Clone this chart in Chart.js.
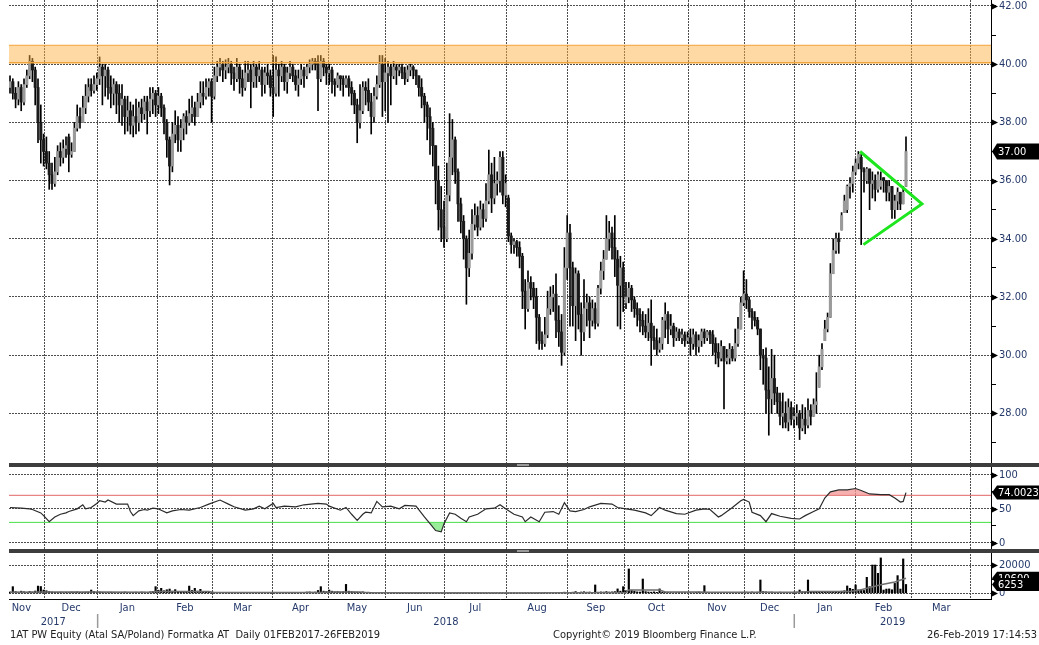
<!DOCTYPE html>
<html>
<head>
<meta charset="utf-8">
<script src="https://cdn.jsdelivr.net/npm/chart.js@4.4.1/dist/chart.umd.min.js"></script>
<style>
  body { margin: 0; background: #fff; width: 1039px; height: 645px; overflow: hidden; position: relative; }
  canvas { position: absolute; left: 0; }
  #priceChart { top: 0; }
  #rsiChart { top: 463px; }
  #volChart { top: 551px; }
  .sep { position: absolute; left: 9px; right: 0; height: 4px; background: #3d3d3d; }
  .sep i { position: absolute; left: 508px; width: 12px; top: 1px; height: 2px; background: #9a9a9a; }
  .foot { position: absolute; top: 628px; font: 11px 'DejaVu Sans Condensed', 'DejaVu Sans', sans-serif; color: #222; white-space: pre; line-height: 14px; }
</style>
</head>
<body>
<canvas id="priceChart" width="1039" height="463"></canvas>
<canvas id="rsiChart" width="1039" height="88"></canvas>
<canvas id="volChart" width="1039" height="94"></canvas>
<div class="sep" style="top:463px"><i></i></div>
<div class="sep" style="top:549px"><i></i></div>
<div class="foot" style="left:10px">1AT PW Equity (Atal SA/Poland) Formatka AT  Daily 01FEB2017-26FEB2019</div>
<div class="foot" style="left:553px">Copyright© 2019 Bloomberg Finance L.P.</div>
<div class="foot" style="right:2px">26-Feb-2019 17:14:53</div>
<script>
// trading-day axis: one unit per session, Nov 2017 .. Feb 2019
const monthNames = ['Nov', 'Dec', 'Jan', 'Feb', 'Mar', 'Apr', 'May', 'Jun', 'Jul', 'Aug', 'Sep', 'Oct', 'Nov', 'Dec', 'Jan', 'Feb', 'Mar'];
const firstMonthStart = -4.3;   // November 2017 begins before the visible window
const monthEdges = [12.4, 31.3, 52.5, 72.4, 93.7, 113.8, 134.0, 155.1, 177.25, 199.2, 219.3, 242.4, 262.5, 280.1, 302.0, 322.0, 343.2];
const yearLabels = ['2017', '2018', '2019'];
const yearStartEdge = [1, 13];

const priceTicks = [27, 28, 29, 30, 31, 32, 33, 34, 35, 36, 37, 38, 39, 40, 41, 42];
const rsiTicks = [0, 25, 50, 75, 100];
const volTicks = [0, 10000, 20000];

const bandLow = 40.05, bandHigh = 40.65;
const triDay = [303.6, 325.7, 304.8];
const triPrice = [37.0, 35.2, 33.8];
const rsiUpper = 70, rsiLower = 30;

const openP = [
  39.2, 39.4, 39.0, 38.8, 39.2, 38.7, 39.3, 39.6, 40.1, 39.8, 39.2, 38.0, 37.4,
  37.0, 36.6, 36.2, 35.9, 36.3, 37.0, 36.8, 37.1, 37.5, 36.9, 37.0, 37.8, 38.2, 38.0, 38.5, 38.9, 39.3, 39.1, 39.3,
  39.5, 39.9, 39.6, 39.8, 39.2, 39.0, 39.3, 39.0, 38.6, 38.8, 38.2, 38.4, 37.9, 38.2, 38.0, 38.5, 38.3, 38.7, 38.4, 38.8, 39.0,
  38.6, 38.9, 38.5, 38.0, 37.4, 36.5, 37.6, 37.9, 37.4, 37.8, 38.2, 38.0, 38.3, 38.5, 38.2, 38.7, 39.0, 38.9, 39.2, 39.4,
  38.9, 39.6, 39.9, 40.0, 39.8, 39.9, 40.0, 39.7, 39.5, 39.9, 39.5, 39.2, 39.7, 39.8, 39.4, 39.9, 39.6, 39.8, 39.3, 39.7, 39.6,
  39.2, 39.0, 39.8, 39.6, 39.9, 39.4, 39.7, 39.9, 39.6, 39.3, 39.5, 39.8, 39.6, 39.9, 40.0, 40.1, 40.0, 39.5, 40.1, 39.9,
  39.7, 39.8, 39.4, 39.3, 39.6, 39.5, 39.3, 39.5, 39.2, 39.0, 38.6, 38.0, 38.4, 39.2, 39.1, 38.7, 38.2, 38.9, 39.3, 40.0,
  39.4, 39.7, 39.9, 39.6, 39.9, 39.8, 39.9, 39.7, 39.5, 39.8, 39.9, 39.8, 39.6, 39.2, 38.9, 38.6, 38.2, 37.8, 37.2, 36.0, 35.0,
  34.4, 34.0, 35.5, 36.8, 37.4, 36.3, 35.2, 34.6, 34.0, 33.0, 33.5, 34.5, 34.8, 34.4, 35.0, 34.7, 35.3, 36.2, 35.4, 35.9, 36.0, 36.8, 35.5,
  35.4, 34.1, 33.8, 33.9, 33.7, 33.4, 32.2, 31.6, 32.5, 32.3, 32.0, 31.3, 30.5, 30.4, 30.7, 31.6, 32.0, 32.1, 31.2, 30.8, 30.1, 33.0,
  34.2, 33.0, 31.7, 32.8, 31.4, 30.8, 31.6, 31.8, 31.2, 31.6, 31.1, 32.3, 32.9, 33.3, 34.0, 34.2, 33.7, 33.3, 32.4, 33.0,
  31.8, 32.0, 32.3, 31.9, 31.6, 31.4, 31.2, 31.0, 30.8, 31.1, 30.6, 30.5, 30.2, 30.4, 31.2, 31.4, 30.9, 31.0, 30.6, 30.8, 30.6, 30.7, 30.5,
  30.6, 30.4, 30.7, 30.3, 30.5, 30.8, 30.6, 30.8, 30.7, 30.4, 30.1, 29.9, 30.3, 29.8, 29.9, 30.2, 29.9, 30.4, 30.9, 31.8,
  32.1, 31.9, 31.5, 31.3, 31.2, 30.9, 30.0, 29.9, 28.8, 28.5, 29.2, 28.7, 28.4, 27.9, 28.0, 27.7, 28.2, 27.8,
  27.9, 28.0, 27.5, 27.8, 27.6, 28.1, 27.9, 28.3, 28.9, 29.6, 30.5, 30.9, 31.3, 32.8, 33.6, 34.0, 34.3, 34.9, 35.0, 35.8, 35.9, 36.3,
  36.6, 36.8, 36.4, 36.0, 36.4, 35.9, 36.0, 35.7, 35.8, 36.1, 36.0, 35.6, 35.8, 35.0, 35.3, 35.6, 35.2, 35.8
];
const highP = [
  39.6, 39.5, 39.2, 39.4, 39.3, 39.5, 39.8, 40.3, 40.2, 39.9, 39.5, 38.6, 37.6,
  37.5, 37.0, 36.6, 36.8, 37.2, 37.3, 37.4, 37.5, 37.6, 37.3, 38.0, 38.6, 38.5, 38.9, 39.3, 39.5, 39.5, 39.6, 39.7,
  40.25, 40.0, 40.0, 39.9, 39.6, 39.5, 39.4, 39.3, 39.3, 38.9, 38.9, 38.7, 38.6, 38.8, 38.7, 38.8, 38.9, 38.9, 39.2, 39.2, 39.1,
  39.2, 39.0, 38.6, 38.1, 37.5, 38.0, 38.4, 38.2, 38.1, 38.3, 38.4, 38.8, 38.9, 38.7, 39.0, 39.4, 39.4, 39.5, 39.5, 39.5,
  39.9, 40.1, 40.2, 40.1, 40.15, 40.2, 40.1, 39.9, 40.2, 40.0, 39.8, 40.1, 40.1, 40.0, 40.1, 40.0, 40.1, 39.9, 39.9, 40.0, 39.8,
  40.3, 40.25, 40.0, 40.1, 40.0, 39.9, 40.1, 40.0, 39.8, 39.8, 40.0, 39.9, 40.0, 40.15, 40.2, 40.2, 40.3, 40.3, 40.2, 40.0,
  40.0, 39.9, 39.5, 39.7, 39.6, 39.6, 39.6, 39.6, 39.4, 39.1, 38.8, 39.3, 39.4, 39.4, 39.5, 39.0, 39.2, 39.6, 40.3, 40.3,
  40.2, 40.1, 40.0, 40.1, 40.0, 40.0, 40.0, 39.9, 39.95, 40.0, 39.95, 39.8, 39.6, 39.5, 39.0, 38.7, 38.5, 38.0, 37.2, 36.5, 35.8,
  35.3, 36.6, 38.3, 38.1, 37.5, 36.4, 35.4, 34.8, 34.1, 34.3, 35.0, 35.2, 35.1, 35.3, 35.2, 35.9, 37.05, 36.6, 36.8, 36.3, 37.0, 37.0, 36.2,
  35.5, 34.2, 34.0, 33.95, 33.9, 33.5, 32.6, 32.9, 32.7, 32.5, 32.3, 31.4, 30.8, 31.3, 32.2, 32.35, 32.4, 32.8, 31.7, 31.4, 33.7, 34.8,
  34.5, 33.2, 33.0, 32.9, 31.8, 32.6, 32.1, 32.0, 31.9, 31.8, 32.4, 33.2, 33.6, 34.8, 34.6, 34.4, 34.8, 33.6, 33.4, 33.2,
  32.5, 32.5, 32.4, 32.0, 31.8, 31.6, 31.5, 31.4, 31.6, 31.9, 31.0, 30.9, 30.6, 31.3, 31.8, 31.5, 31.4, 31.1, 30.95, 30.9, 30.9, 30.8, 30.8,
  30.9, 30.9, 30.8, 30.7, 30.9, 30.9, 30.85, 30.85, 30.85, 30.6, 30.4, 30.5, 30.3, 30.2, 30.4, 30.3, 30.9, 31.3, 32.0, 32.9,
  32.6, 32.0, 31.6, 31.5, 31.3, 30.9, 30.2, 30.25, 29.6, 30.2, 30.0, 28.9, 28.7, 28.7, 28.4, 28.5, 28.4, 28.2,
  28.3, 28.1, 28.3, 28.2, 28.5, 28.3, 28.5, 29.4, 30.0, 30.4, 31.2, 31.45, 33.15, 34.0, 34.2, 34.2, 34.9, 35.5, 35.85, 36.1, 36.5, 36.75,
  37.0, 36.9, 36.45, 36.45, 36.4, 36.3, 36.2, 36.3, 36.3, 36.1, 36.0, 36.0, 35.8, 35.5, 35.75, 35.6, 35.8, 37.5
];
const lowP = [
  39.0, 38.8, 38.5, 38.6, 38.4, 38.6, 39.2, 39.5, 39.4, 38.6, 37.3, 36.6, 36.5,
  36.4, 35.7, 35.7, 35.8, 36.2, 36.5, 36.6, 36.8, 36.3, 36.8, 37.0, 37.7, 37.8, 38.0, 38.3, 38.7, 38.9, 39.0, 39.1,
  39.3, 38.6, 38.9, 38.8, 38.5, 38.6, 38.3, 38.0, 37.9, 37.6, 37.7, 37.6, 37.5, 37.6, 37.7, 38.0, 38.1, 37.6, 38.2, 38.3, 38.2,
  38.3, 38.2, 37.6, 36.8, 35.85, 36.3, 37.3, 37.0, 37.0, 37.4, 37.6, 37.9, 38.0, 37.9, 38.2, 38.5, 38.6, 38.8, 38.9, 38.0,
  38.8, 39.4, 39.6, 39.4, 39.5, 39.7, 39.3, 39.1, 39.4, 39.0, 38.9, 39.1, 39.4, 38.5, 39.2, 39.2, 39.4, 38.9, 39.0, 39.3, 38.9,
  38.2, 38.9, 38.9, 39.4, 39.1, 39.0, 39.5, 39.4, 39.1, 38.9, 39.3, 39.2, 39.5, 39.7, 39.8, 39.8, 38.4, 39.4, 39.6, 39.3,
  39.3, 39.0, 38.9, 39.2, 39.1, 38.9, 39.2, 38.9, 38.6, 38.3, 37.3, 37.8, 38.3, 38.6, 38.4, 37.6, 38.0, 38.8, 39.2, 38.2,
  38.4, 38.0, 38.6, 39.5, 39.3, 39.6, 39.5, 39.3, 39.4, 39.6, 39.5, 39.3, 38.9, 38.5, 38.0, 37.4, 36.9, 36.5, 35.2, 34.3, 33.9,
  33.7, 33.9, 35.3, 36.2, 35.9, 34.6, 34.2, 33.3, 31.75, 32.7, 33.3, 34.3, 34.1, 34.3, 34.4, 34.6, 35.2, 34.9, 35.2, 35.5, 35.6, 35.2, 35.1,
  33.9, 33.5, 33.5, 33.4, 33.0, 31.6, 30.9, 31.5, 31.9, 31.6, 30.4, 30.2, 30.2, 30.3, 30.6, 31.4, 31.5, 30.6, 30.3, 29.65, 30.0, 32.6,
  31.0, 31.0, 30.5, 30.9, 30.0, 30.5, 31.0, 30.6, 31.0, 30.9, 31.0, 32.1, 32.6, 33.3, 33.6, 33.3, 32.7, 31.0, 30.9, 31.5,
  31.6, 31.8, 31.5, 31.3, 31.0, 30.8, 30.7, 30.6, 30.5, 29.65, 30.2, 30.0, 30.1, 30.2, 30.6, 30.4, 30.7, 30.3, 30.5, 30.5, 30.4, 30.3, 30.4,
  30.0, 30.2, 30.0, 30.1, 30.3, 30.4, 30.5, 30.4, 30.0, 29.7, 29.6, 29.8, 28.15, 29.7, 29.7, 29.8, 29.8, 30.3, 30.9, 31.7,
  31.6, 31.3, 30.9, 31.0, 30.7, 29.5, 29.0, 28.0, 27.25, 28.0, 28.3, 28.0, 27.6, 27.5, 27.5, 27.4, 27.6, 27.5,
  27.6, 27.1, 27.4, 27.3, 27.5, 27.6, 27.9, 28.0, 28.9, 29.5, 30.5, 30.8, 31.3, 32.8, 33.5, 33.5, 34.3, 34.9, 34.9, 35.4, 35.6, 36.2,
  36.4, 33.8, 35.6, 35.9, 35.0, 35.4, 35.3, 35.6, 35.7, 35.6, 35.3, 35.3, 34.7, 34.7, 35.0, 35.0, 35.2, 35.8
];
const closeP = [
  39.4, 39.0, 38.8, 39.2, 38.7, 39.3, 39.6, 40.1, 39.8, 39.2, 38.0, 37.4, 37.0,
  36.6, 36.2, 35.9, 36.3, 37.0, 36.8, 37.1, 37.2, 36.9, 37.0, 37.8, 38.2, 38.0, 38.5, 38.9, 39.2, 39.1, 39.3, 39.5,
  39.9, 39.6, 39.8, 39.2, 39.0, 39.3, 39.0, 38.6, 38.8, 38.2, 38.4, 37.9, 38.2, 38.0, 38.5, 38.3, 38.7, 38.4, 38.8, 39.0, 38.6,
  38.9, 38.5, 38.0, 37.4, 36.5, 37.6, 37.9, 37.4, 37.8, 38.2, 38.0, 38.3, 38.5, 38.2, 38.7, 39.0, 38.9, 39.2, 39.4, 38.9,
  39.6, 39.9, 40.0, 39.8, 39.9, 40.0, 39.7, 39.5, 39.9, 39.5, 39.2, 39.7, 39.8, 39.4, 39.9, 39.6, 39.8, 39.3, 39.7, 39.6, 39.2,
  39.0, 39.8, 39.6, 39.9, 39.4, 39.7, 39.9, 39.6, 39.3, 39.5, 39.8, 39.6, 39.9, 40.0, 40.1, 40.0, 39.5, 40.1, 39.9, 39.7,
  39.8, 39.4, 39.3, 39.6, 39.5, 39.3, 39.5, 39.2, 39.0, 38.6, 38.0, 38.4, 39.2, 39.1, 38.7, 38.2, 38.9, 39.3, 40.0, 39.4,
  39.7, 39.9, 39.6, 39.9, 39.8, 39.9, 39.7, 39.5, 39.8, 39.9, 39.8, 39.6, 39.2, 38.9, 38.6, 38.2, 37.8, 37.2, 36.0, 35.0, 34.4,
  34.0, 35.5, 36.8, 37.4, 36.3, 35.2, 34.6, 34.0, 33.0, 33.5, 34.5, 34.8, 34.4, 35.0, 34.7, 35.3, 36.2, 35.4, 35.9, 36.0, 36.8, 35.5, 35.9,
  34.1, 33.8, 33.9, 33.7, 33.4, 32.2, 31.6, 32.5, 32.3, 32.0, 31.3, 30.5, 30.4, 30.7, 31.6, 32.0, 32.1, 31.2, 30.8, 30.1, 33.0, 34.2,
  33.0, 31.7, 32.8, 31.4, 30.8, 31.6, 31.8, 31.2, 31.6, 31.1, 32.3, 32.9, 33.3, 34.0, 34.2, 33.7, 33.3, 32.4, 33.0, 32.0,
  32.0, 32.3, 31.9, 31.6, 31.4, 31.2, 31.0, 30.8, 31.1, 30.6, 30.5, 30.2, 30.4, 31.2, 31.4, 30.9, 31.0, 30.6, 30.8, 30.6, 30.7, 30.5, 30.6,
  30.4, 30.7, 30.3, 30.5, 30.8, 30.6, 30.8, 30.7, 30.4, 30.1, 29.9, 30.3, 29.8, 29.9, 30.2, 29.9, 30.4, 30.9, 31.8, 32.1,
  31.9, 31.5, 31.3, 31.2, 30.9, 30.0, 29.9, 28.8, 28.5, 29.2, 28.7, 28.4, 27.9, 28.0, 27.7, 28.2, 27.8, 27.9,
  28.0, 27.5, 27.8, 27.6, 28.1, 27.9, 28.3, 28.4, 29.6, 30.2, 30.9, 31.3, 32.8, 33.6, 34.0, 33.9, 34.8, 35.3, 35.8, 35.9, 36.3, 36.6,
  36.9, 36.4, 36.3, 36.4, 35.9, 36.0, 35.7, 36.2, 36.0, 36.0, 35.6, 35.8, 35.0, 35.3, 35.6, 35.2, 35.6, 37.0
];
const volume = [
  900, 4700, 1200, 800, 1500, 1100, 700, 1300, 900, 1600, 5100, 4800, 2300,
  1800, 1200, 900, 700, 600, 800, 500, 700, 600, 900, 800, 1000, 700, 600, 800, 900, 2300, 1200, 700,
  900, 700, 500, 600, 800, 700, 500, 600, 700, 900, 600, 500, 700, 800, 600, 900, 800, 700, 1000, 1400, 4700,
  2200, 3500, 1800, 2500, 3000, 1500, 2600, 1200, 900, 1400, 1100, 5100, 2000, 3500, 1500, 2800, 1200, 900, 700, 600,
  500, 400, 600, 400, 500, 300, 400, 600, 500, 400, 300, 500, 400, 600, 400, 500, 300, 400, 500, 400, 300,
  400, 500, 300, 400, 600, 400, 500, 300, 400, 500, 600, 700, 900, 1000, 800, 900, 2000, 4700, 1500, 1200,
  2300, 1500, 1000, 1200, 900, 1100, 6300, 1500, 1200, 900, 800, 700, 1000, 600, 800, 700, 600, 500, 700, 600,
  400, 300, 300, 200, 300, 200, 200, 300, 200, 200, 300, 200, 200, 300, 200, 300, 200, 200, 300, 200, 300,
  200, 300, 200, 300, 200, 200, 300, 200, 300, 200, 200, 300, 200, 200, 300, 200, 300, 200, 200, 300, 200, 300, 200,
  300, 200, 200, 200, 300, 200, 200, 300, 200, 300, 200, 300, 200, 500, 300, 400, 300, 300, 500, 600, 800, 700,
  600, 800, 1200, 700, 900, 1100, 800, 900, 700, 5900, 800, 1000, 900, 1200, 900, 1000, 1200, 3100, 1500, 4700,
  1800, 17200, 2000, 1500, 1000, 900, 10100, 1200, 900, 800, 1000, 700, 3100, 900, 700, 600, 500, 400, 500, 600, 400, 500, 400,
  500, 400, 600, 900, 500, 5400, 600, 500, 400, 500, 600, 500, 700, 400, 500, 600, 500, 400, 600, 700,
  800, 700, 900, 600, 800, 9400, 1200, 1000, 800, 900, 700, 600, 800, 700, 600, 500, 700, 800,
  900, 2300, 1100, 900, 9400, 1200, 1000, 800, 900, 1000, 1200, 900, 1100, 1000, 1300, 1200, 1500, 1800, 5200, 3500, 2800, 5900,
  2300, 2500, 2000, 11300, 4700, 20000, 20000, 14100, 25000, 2300, 3000, 3100, 2500, 7000, 12500, 3000, 24300, 6253
];
const volAvgDay = [0, 12, 32, 50, 52, 71, 73, 111, 113, 125, 129, 182, 220, 221, 232, 234, 246, 250, 282, 286, 300, 304, 311, 316, 320];
const volAvgVal = [700, 900, 900, 700, 1200, 1200, 500, 500, 900, 900, 300, 200, 600, 2300, 2300, 1000, 900, 700, 800, 1200, 1200, 2500, 6000, 8000, 10600];
const rsiDay = [
  0, 4, 7, 8, 11, 12, 14, 16, 18, 20,
  21, 24, 26, 27, 29, 31, 32, 34, 35, 38,
  42, 43, 44, 46, 48, 49, 51, 53, 54, 56,
  58, 61, 64, 68, 71, 75, 78, 80, 84, 87,
  89, 91, 94, 95, 98, 102, 105, 110, 113, 114,
  118, 120, 122, 124, 126, 127, 129, 131, 133, 136,
  139, 141, 145, 148, 150, 152, 154, 155, 157, 159,
  161, 163, 164, 167, 170, 173, 175, 177, 180, 183,
  184, 186, 189, 191, 194, 196, 198, 200, 202, 205,
  207, 211, 215, 217, 220, 223, 227, 229, 232, 234,
  238, 241, 245, 248, 250, 253, 254, 258, 261, 262,
  264, 265, 268, 270, 272, 275, 279, 282, 284, 287,
  289, 291, 293, 296, 299, 302, 304, 307, 311, 314,
  316, 318, 319, 320
];
const rsiVal = [
  52, 51, 50, 49, 44, 40, 31, 38, 42, 44,
  46, 50, 56, 50, 52, 58, 62, 60, 63, 57,
  57, 46, 40, 47, 49, 48, 51, 50, 48, 44,
  47, 49, 48, 52, 57, 63, 57, 53, 48, 50,
  54, 50, 58, 52, 54, 53, 56, 58, 57, 54,
  48, 52, 42, 33, 42, 45, 44, 61, 53, 54,
  50, 55, 54, 38, 28, 18, 16, 28, 44, 42,
  36, 31, 38, 42, 50, 51, 56, 50, 42, 38,
  31, 38, 31, 45, 46, 42, 59, 47, 46, 49,
  53, 58, 57, 52, 50, 48, 44, 40, 52, 48,
  43, 42, 48, 50, 49, 38, 40, 52, 62, 64,
  60, 45, 40, 31, 43, 39, 36, 35, 40, 46,
  50, 66, 75, 78, 78, 80, 77, 72, 71, 71,
  66, 60, 61, 74.0023
];

// ---- look ----
const X_MIN = -0.36, X_MAX = 350.36;
const GRID = '#4d4d4d';
const LABEL = '#24396a';
const FAMILY = "'DejaVu Sans Condensed', 'DejaVu Sans', sans-serif";
const AXIS_FONT = '11px ' + FAMILY;
const days = closeP.map((_, i) => i);

function xAxis(showBorder) {
    return {
        type: 'linear', min: X_MIN, max: X_MAX, offset: false,
        afterBuildTicks: s => { s.ticks = monthEdges.map(v => ({ value: v })); },
        ticks: { display: false },
        grid: { color: GRID, lineWidth: 1, drawTicks: false, offset: false },
        border: { display: showBorder, color: '#000', width: 1, dash: [2, 1] },
        afterFit: s => { s.height = 0; s.paddingLeft = 0; s.paddingRight = 0; }
    };
}

function rightAxis(min, max, tickList, isMajor, fmt) {
    return {
        position: 'right', min: min, max: max,
        afterBuildTicks: s => { s.ticks = tickList.map(v => ({ value: v })); },
        grid: {
            color: c => (c.tick && isMajor(c.tick.value)) ? GRID : 'rgba(0,0,0,0)',
            tickColor: '#000', tickLength: 5, lineWidth: 1
        },
        border: { display: true, color: '#000', width: 1, dash: [2, 1] },
        ticks: {
            color: LABEL, padding: 3, autoSkip: false,
            font: { family: FAMILY, size: 11 },
            callback: v => isMajor(v) ? fmt(v) : ''
        },
        afterFit: s => { s.width = 48; s.paddingTop = 0; s.paddingBottom = 0; }
    };
}

function baseOptions(yCfg, showXBorder, padBottom, extra) {
    return {
        responsive: false, animation: false, events: [],
        layout: { padding: { left: 9, right: 0, top: 0, bottom: padBottom } },
        plugins: Object.assign({ legend: { display: false }, tooltip: { enabled: false } }, extra),
        scales: { x: xAxis(showXBorder), y: yCfg }
    };
}

function drawTag(chart, value, text, h) {
    const ctx = chart.ctx, r = chart.chartArea.right;
    const py = chart.scales.y.getPixelForValue(value);
    ctx.fillStyle = '#000';
    ctx.beginPath();
    ctx.moveTo(r + 1, py);
    ctx.lineTo(r + 6, py - h / 2);
    ctx.lineTo(chart.width, py - h / 2);
    ctx.lineTo(chart.width, py + h / 2);
    ctx.lineTo(r + 6, py + h / 2);
    ctx.closePath();
    ctx.fill();
    ctx.fillStyle = '#fff';
    ctx.font = '11px ' + FAMILY;
    ctx.textBaseline = 'middle';
    ctx.fillText(text, r + 7, py + 0.5);
}

// black tags at the right edge + small arrow heads on major ticks
const markers = {
    id: 'markers',
    afterDraw(chart, args, opts) {
        const ctx = chart.ctx, y = chart.scales.y, r = chart.chartArea.right;
        ctx.save();
        ctx.fillStyle = '#000';
        y.ticks.forEach(t => {
            if (!opts.isMajor(t.value)) return;
            const py = Math.round(y.getPixelForValue(t.value)) + 0.5;
            ctx.beginPath();
            ctx.moveTo(r + 1, py - 3);
            ctx.lineTo(r + 7, py);
            ctx.lineTo(r + 1, py + 3);
            ctx.closePath();
            ctx.fill();
        });
        for (let k = 0; k < opts.tagValues.length; k++) {
            drawTag(chart, opts.tagValues[k], opts.tagTexts[k], opts.tagHeight);
        }
        ctx.restore();
    }
};

// month and year captions under the volume pane
const timeLabels = {
    id: 'timeLabels',
    afterDraw(chart) {
        const ctx = chart.ctx, x = chart.scales.x, base = chart.chartArea.bottom;
        const edges = [firstMonthStart].concat(monthEdges);
        const px = v => x.getPixelForValue(v);
        ctx.save();
        ctx.font = AXIS_FONT;
        ctx.fillStyle = LABEL;
        ctx.textAlign = 'center';
        ctx.textBaseline = 'middle';
        monthNames.forEach((m, k) => {
            ctx.fillText(m, (px(edges[k]) + px(edges[k + 1])) / 2, base + 9);
        });
        const yEdges = [X_MIN, monthEdges[yearStartEdge[0]], monthEdges[yearStartEdge[1]], X_MAX];
        yearLabels.forEach((yl, k) => {
            ctx.fillText(yl, (px(yEdges[k]) + px(yEdges[k + 1])) / 2, base + 23);
        });
        ctx.strokeStyle = '#9a9a9a';
        ctx.lineWidth = 1.5;
        ctx.beginPath();
        yearStartEdge.forEach(k => {
            const sx = px(monthEdges[k]);
            ctx.moveTo(sx, base + 15);
            ctx.lineTo(sx, base + 29);
        });
        ctx.stroke();
        ctx.restore();
    }
};

const isEven = v => v % 2 === 0;
const edgeLine = (val) => [{ x: X_MIN, y: val }, { x: X_MAX, y: val }];
const lastClose = closeP[closeP.length - 1];
const lastRsi = rsiVal[rsiVal.length - 1];
const lastAvg = volAvgVal[volAvgVal.length - 1];
const lastVol = volume[volume.length - 1];

// price pane
new Chart(document.getElementById('priceChart'), {
    type: 'bar',
    data: {
        datasets: [
            {
                type: 'line', data: edgeLine(bandHigh), borderColor: '#f2a23a', borderWidth: 1,
                pointRadius: 0, fill: false, order: 0
            },
            {
                type: 'line', data: edgeLine(bandLow), borderColor: '#f2a23a', borderWidth: 1.5,
                pointRadius: 0, fill: '-1', backgroundColor: 'rgba(255,176,64,0.48)', order: 0
            },
            {
                type: 'line', data: triDay.map((d, k) => ({ x: d, y: triPrice[k] })),
                borderColor: '#1ee61e', borderWidth: 3, pointRadius: 0, tension: 0, fill: false, order: 1
            },
            {
                data: days.map(i => ({ x: i, y: [openP[i], closeP[i]] })),
                backgroundColor: c => closeP[c.dataIndex] >= openP[c.dataIndex] ? '#9a9a9a' : '#1a1a1a',
                borderWidth: 0, barThickness: 2.4, minBarLength: 1, grouped: false, order: 2
            },
            {
                data: days.map(i => ({ x: i, y: [lowP[i], highP[i]] })),
                backgroundColor: '#000', barThickness: 1, grouped: false, order: 3
            }
        ]
    },
    options: baseOptions(
        rightAxis(26.295, 42.206, priceTicks, isEven, v => v.toFixed(2)), false, 0,
        { markers: { isMajor: isEven, tagValues: [lastClose], tagTexts: [lastClose.toFixed(2)], tagHeight: 16 } }
    ),
    plugins: [markers]
});

// RSI pane
const rsiPts = rsiDay.map((d, k) => ({ x: d, y: rsiVal[k] }));
const rsiMajor = v => v % 50 === 0;
new Chart(document.getElementById('rsiChart'), {
    type: 'line',
    data: {
        datasets: [
            {
                data: rsiPts, borderColor: '#2b2b2b', borderWidth: 1.2, pointRadius: 0, tension: 0,
                fill: { target: { value: rsiUpper }, above: 'rgba(243,150,150,0.75)', below: 'rgba(0,0,0,0)' }, order: 0
            },
            {
                data: rsiPts, borderWidth: 0, borderColor: 'rgba(0,0,0,0)', pointRadius: 0, tension: 0,
                fill: { target: { value: rsiLower }, above: 'rgba(0,0,0,0)', below: 'rgba(120,230,120,0.75)' }, order: 1
            },
            { data: edgeLine(rsiUpper), borderColor: '#e06262', borderWidth: 1, pointRadius: 0, fill: false, order: 2 },
            { data: edgeLine(rsiLower), borderColor: '#45e045', borderWidth: 1, pointRadius: 0, fill: false, order: 2 }
        ]
    },
    options: baseOptions(
        rightAxis(-12.26, 117.7, rsiTicks, rsiMajor, v => String(v)), false, 0,
        { markers: { isMajor: rsiMajor, tagValues: [lastRsi], tagTexts: [lastRsi.toFixed(4)], tagHeight: 14 } }
    ),
    plugins: [markers]
});

// volume pane
const volMajor = v => v % 20000 === 0;
new Chart(document.getElementById('volChart'), {
    type: 'bar',
    data: {
        datasets: [
            {
                type: 'line', data: volAvgDay.map((d, k) => ({ x: d, y: volAvgVal[k] })),
                borderColor: '#6e6e6e', borderWidth: 1.5, pointRadius: 0, tension: 0, fill: false, order: 0
            },
            {
                data: days.map(i => ({ x: i, y: volume[i] })),
                backgroundColor: '#000', barThickness: 1.5, grouped: false, order: 1
            }
        ]
    },
    options: baseOptions(
        rightAxis(-4030, 29900, volTicks, volMajor, v => String(v)), true, 46,
        { markers: { isMajor: volMajor, tagValues: [lastAvg, lastVol], tagTexts: [String(lastAvg), String(lastVol)], tagHeight: 13 } }
    ),
    plugins: [markers, timeLabels]
});
</script>
</body>
</html>
